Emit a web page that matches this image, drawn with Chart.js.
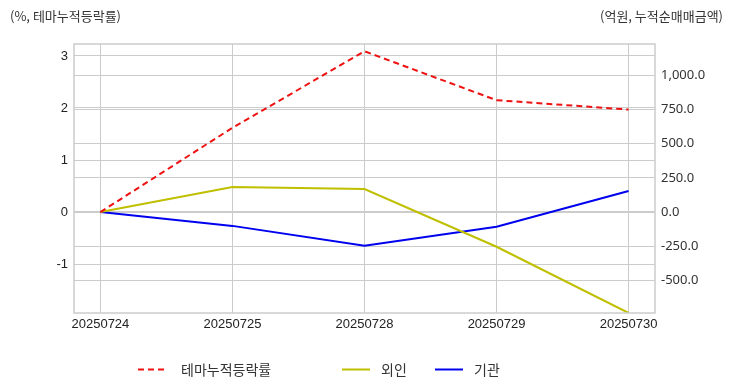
<!DOCTYPE html>
<html>
<head>
<meta charset="utf-8">
<script src="https://cdn.jsdelivr.net/npm/chart.js@4"></script>
<style>
  body { margin: 0; background: #fff; }
  #wrap { position: relative; width: 732px; height: 392px; }
  .ttl { position: absolute; top: 6px; font: 13px "Noto Sans CJK KR", sans-serif; color: #333; }
  #legend { position: absolute; top: 359px; left: 0; width: 732px; height: 20px; font: 14px "Noto Sans CJK KR", sans-serif; color: #333; }
  .item { position: absolute; top: 0; height: 20px; line-height: 20px; }
  .item svg { position: absolute; top: 9px; left: 0; }
  .item span { position: absolute; white-space: nowrap; }
</style>
</head>
<body>
<div id="wrap">
  <canvas id="js--chart--1" width="732" height="392"></canvas>
  <div class="ttl" style="left:10px">(%, 테마누적등락률)</div>
  <div class="ttl" style="right:9px">(억원, 누적순매매금액)</div>
  <div id="legend">
    <div class="item" style="left:138px">
      <svg width="30" height="3"><line x1="0" y1="1.5" x2="28" y2="1.5" stroke="#ee1111" stroke-width="2" stroke-dasharray="6,4"/></svg>
      <span style="left:43px">테마누적등락률</span>
    </div>
    <div class="item" style="left:342px">
      <svg width="30" height="3"><line x1="0" y1="1.5" x2="28" y2="1.5" stroke="#bfbf00" stroke-width="2"/></svg>
      <span style="left:39px">외인</span>
    </div>
    <div class="item" style="left:435px">
      <svg width="30" height="3"><line x1="0" y1="1.5" x2="28" y2="1.5" stroke="#0000ee" stroke-width="2"/></svg>
      <span style="left:39px">기관</span>
    </div>
  </div>
</div>
<script>
const dates = ["20250724", "20250725", "20250728", "20250729", "20250730"];
const themeRate = [0, 1.62, 3.09, 2.15, 1.97];
const foreign = [0, 182, 168, -255, -740];
const institution = [0, -102, -248, -109, 153];
const leftTicks = [-1, 0, 1, 2, 3];
const rightTicks = [-500, -250, 0, 250, 500, 750, 1000];

function points(arr) {
    return arr.map(function(v, i) { return {x: i, y: v}; });
}

const framePlugin = {
    id: "frame",
    afterDatasetsDraw(chart) {
        const a = chart.chartArea;
        const ctx = chart.ctx;
        ctx.save();
        ctx.strokeStyle = "#cccccc";
        ctx.lineWidth = 1.5;
        ctx.strokeRect(a.left, a.top, a.right - a.left, a.bottom - a.top);
        ctx.restore();
    }
};

const data = {
    datasets: [
        {
            label: "테마누적등락률",
            data: points(themeRate),
            borderColor: "#ee1111",
            borderDash: [6, 4],
            borderWidth: 2,
            pointRadius: 0,
            yAxisID: "y",
        },
        {
            label: "외인",
            data: points(foreign),
            borderColor: "#bfbf00",
            borderWidth: 2,
            pointRadius: 0,
            yAxisID: "y1",
        },
        {
            label: "기관",
            data: points(institution),
            borderColor: "#0000ee",
            borderWidth: 2,
            pointRadius: 0,
            yAxisID: "y1",
        }
    ]
};

const gridColor = "#cccccc";

const config = {
    type: "line",
    data: data,
    plugins: [framePlugin],
    options: {
        responsive: false,
        animation: false,
        layout: { padding: { top: 44, bottom: 0, left: 0, right: 0 } },
        plugins: { legend: { display: false }, tooltip: { enabled: false } },
        scales: {
            x: {
                type: "linear",
                min: -0.2,
                max: 4.2,
                afterBuildTicks: function(axis) {
                    axis.ticks = dates.map(function(d, i) { return {value: i}; });
                },
                afterFit: function(axis) { axis.height = 79; },
                ticks: {
                    padding: 4,
                    maxRotation: 0,
                    autoSkip: false,
                    color: "#222",
                    font: { family: "Liberation Sans", size: 13 },
                    callback: function(v) { return dates[v]; }
                },
                grid: { color: gridColor, lineWidth: 1, drawTicks: false },
                border: { display: false }
            },
            y: {
                position: "left",
                min: -1.94,
                max: 3.23,
                afterBuildTicks: function(axis) {
                    axis.ticks = leftTicks.map(function(v) { return {value: v}; });
                },
                afterFit: function(axis) { axis.width = 74; },
                ticks: {
                    padding: 6,
                    color: "#222",
                    font: { family: "Liberation Sans", size: 13 },
                    callback: function(v) { return String(v); }
                },
                grid: { color: gridColor, lineWidth: 1, drawTicks: false },
                border: { display: false }
            },
            y1: {
                position: "right",
                min: -740,
                max: 1230,
                afterBuildTicks: function(axis) {
                    axis.ticks = rightTicks.map(function(v) { return {value: v}; });
                },
                afterFit: function(axis) { axis.width = 77; },
                ticks: {
                    padding: 6,
                    color: "#333",
                    font: { family: "Noto Sans", size: 13 },
                    callback: function(v) {
                        return v.toLocaleString("en-US", { minimumFractionDigits: 1, maximumFractionDigits: 1 });
                    }
                },
                grid: { color: gridColor, lineWidth: 1, drawTicks: false },
                border: { display: false }
            }
        }
    }
};

const chart1 = new Chart(document.getElementById("js--chart--1"), config);
</script>
</body>
</html>
